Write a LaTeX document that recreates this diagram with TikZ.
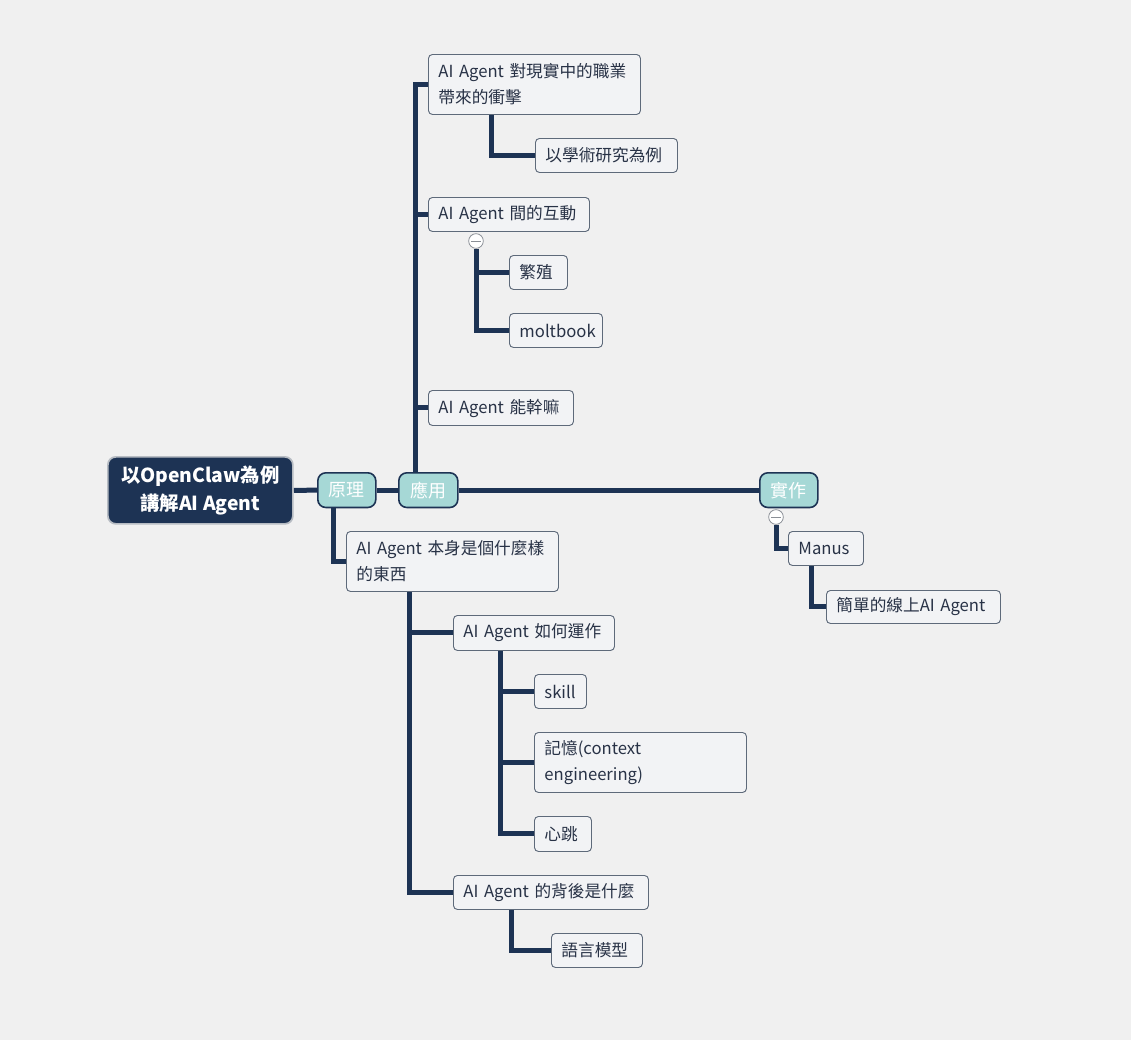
\documentclass[tikz,border=0pt]{standalone}
\usepackage{fontspec}
\setmainfont{Noto Sans CJK TC}
\usepackage{tikz}
\usetikzlibrary{positioning,backgrounds}
\definecolor{cBg}{HTML}{F0F0F0}
\definecolor{cNavy}{HTML}{1D3354}
\definecolor{cTopic}{HTML}{A6D8D6}
\definecolor{cNode}{HTML}{F2F3F5}
\definecolor{cEdge}{HTML}{5E6A7A}
\definecolor{cText}{HTML}{283246}
\definecolor{cFold}{HTML}{8A8F96}
\tikzset{
  box/.style    = {rectangle, rounded corners=3pt, draw=cEdge, fill=cNode, line width=0.7pt,
                   anchor=north west, align=left, inner xsep=7.5pt, inner ysep=0pt,
                   text=cText, font=\fontsize{12.5}{19.5}\selectfont, text width=#1},
  topic/.style  = {rectangle, rounded corners=6pt, draw=cNavy, fill=cTopic, line width=1.2pt,
                   anchor=north west, minimum width=#1, minimum height=26pt, inner sep=0pt,
                   text=white, font=\fontsize{13.5}{16}\selectfont},
  root/.style   = {rectangle, rounded corners=6pt, draw=cEdge!45, fill=cNavy, line width=1.3pt,
                   anchor=north west, minimum width=138.75pt, minimum height=50.25pt,
                   align=center, text=white, font=\fontsize{14.5}{21}\selectfont\bfseries},
  link/.style   = {draw=cNavy, line width=3.75pt},
  fold/.style   = {circle, draw=cFold, fill=white, line width=0.6pt, minimum size=11pt, inner sep=0pt,
                   path picture={\draw[cFold, line width=0.6pt]
                     ([xshift=-3.4pt]path picture bounding box.center) -- ([xshift=3.4pt]path picture bounding box.center);}},
}

\begin{document}
\begin{tikzpicture}[x=0.75pt, y=-0.75pt]
  \useasboundingbox (0,0) rectangle (1131,1040);

  % main line
  \node[root] (root) at (107,456) {以OpenClaw為例\\講解AI Agent};
  \node[topic=43.5pt] (prin) at (317,472) {原理};
  \node[topic=44.25pt] (app) at (398,472) {應用};
  \node[topic=43.5pt] (impl) at (759,472) {實作};

  % 應用
  \node[box=144pt, minimum height=45pt] (job) at (428,54) {AI Agent 對現實中的職業\\帶來的衝擊};
  \node[box=91.5pt, minimum height=25.5pt] (acad) at (535,138) {以學術研究為例};
  \node[box=105.75pt, minimum height=25.5pt] (inter) at (428,197) {AI Agent 間的互動};
  \node[fold] (f1) at (476,241) {};
  \node[box=28.5pt, minimum height=25.5pt] (breed) at (509,255) {繁殖};
  \node[box=54.75pt, minimum height=25.5pt] (molt) at (509,313) {moltbook};
  \node[box=93.75pt, minimum height=26.25pt] (can) at (428,390) {AI Agent 能幹嘛};

  % 原理
  \node[box=144pt, minimum height=45pt] (self) at (346,531) {AI Agent 本身是個什麼樣\\的東西};
  \node[box=105.75pt, minimum height=26.25pt] (how) at (453,615) {AI Agent 如何運作};
  \node[box=24pt, minimum height=25.5pt] (skill) at (534,674) {skill};
  \node[box=144pt, minimum height=45pt] (mem) at (534,732) {記憶(context\\engineering)};
  \node[box=27.75pt, minimum height=26.25pt] (beat) at (534,816) {心跳};
  \node[box=131.25pt, minimum height=25.5pt] (behind) at (453,875) {AI Agent 的背後是什麼};
  \node[box=53.25pt, minimum height=25.5pt] (lm) at (551,933) {語言模型};

  % 實作
  \node[fold] (f2) at (776,517) {};
  \node[box=41.25pt, minimum height=25.5pt] (manus) at (788,531) {Manus};
  \node[box=115.5pt, minimum height=24.75pt] (online) at (826,590) {簡單的線上AI Agent};

  \begin{scope}[on background layer]
  \fill[cBg] (0,0) rectangle (1131,1040);
  \draw[link] (root.east) -- (prin.west);
  \draw[link] (prin.east) -- (app.west);
  \draw[link] (app.east) -- (impl.west);

  \foreach \c in {job,inter,can}
    \draw[link] (app.north west) ++(17,0) |- (\c.west);
  \draw[link] (job.south west) ++(63,0) |- (acad.west);
  \foreach \c in {breed,molt}
    \draw[link] (f1.south) |- (\c.west);

  \draw[link] (prin.south west) ++(16,0) |- (self.west);
  \foreach \c in {how,behind}
    \draw[link] (self.south west) ++(63,0) |- (\c.west);
  \foreach \c in {skill,mem,beat}
    \draw[link] (how.south west) ++(47,0) |- (\c.west);
  \draw[link] (behind.south west) ++(58,0) |- (lm.west);

  \draw[link] (f2.south) |- (manus.west);
  \draw[link] (manus.south west) ++(23,0) |- (online.west);
  \end{scope}
\end{tikzpicture}
\end{document}
